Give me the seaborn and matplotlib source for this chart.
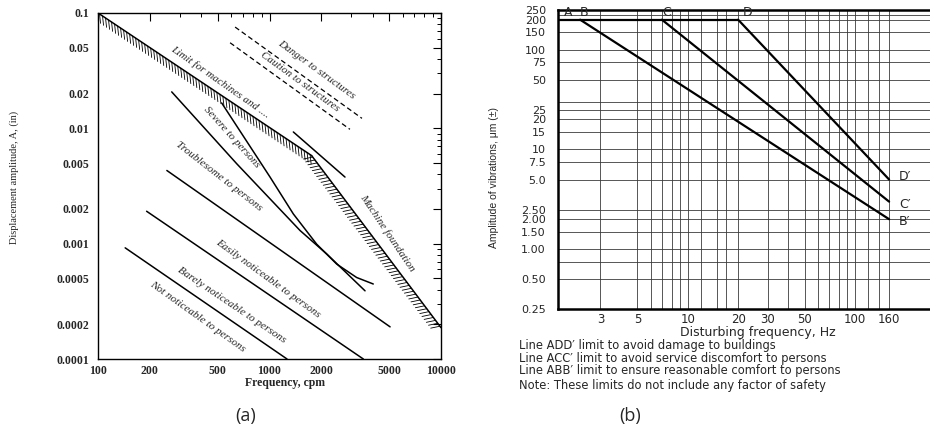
import matplotlib
matplotlib.use("Agg")
import matplotlib.pyplot as plt
import matplotlib.patheffects as pe
from matplotlib.ticker import FixedLocator, NullFormatter, LogLocator
import seaborn as sns

# ---- panel (a): frequency in cpm, displacement amplitude in inches
machine_freq = [100, 1760, 10000]
machine_amp = [0.1, 0.0058, 0.000187]
danger_freq = [630, 3460]
danger_amp = [0.0755, 0.0122]
caution_freq = [589, 2944]
caution_amp = [0.0552, 0.0098]
cross_freq = [1377, 2755]
cross_amp = [0.0093, 0.00378]
severe_lo_freq = [269, 644, 1507, 2158, 3606]
severe_lo_amp = [0.0207, 0.00493, 0.0013, 0.000813, 0.00039]
severe_hi_freq = [526, 1007, 1377, 1884, 2466, 3221, 4027]
severe_hi_amp = [0.0166, 0.00378, 0.00181, 0.00099, 0.000665, 0.000509, 0.000447]
trouble_freq = [252, 5048]
trouble_amp = [0.00431, 0.00019]
easily_freq = [192, 3524]
easily_amp = [0.00191, 0.0001]
barely_freq = [144, 1265]
barely_amp = [0.00092, 0.0001]

cpm_ticks = [100, 200, 500, 1000, 2000, 5000, 10000]
in_ticks = [0.0001, 0.0002, 0.0005, 0.001, 0.002, 0.005, 0.01, 0.02, 0.05, 0.1]
in_labels = ["0.0001", "0.0002", "0.0005", "0.001", "0.002", "0.005",
             "0.01", "0.02", "0.05", "0.1"]

# zone labels: text, freq, amp, angle
zone_text = ["Danger to structures", "Caution to structures", "Limit for machines and ....",
             "Severe to persons", "Troublesome to persons", "Easily noticeable to persons",
             "Barely noticeable to persons", "Not noticeable to persons", "Machine foundation"]
zone_freq = [1866, 1507, 514, 604, 508, 980, 602, 380, 4876]
zone_amp = [0.0319, 0.0253, 0.0253, 0.00836, 0.00383, 0.000497, 0.000295, 0.000232, 0.00125]
zone_rot = [-36, -36, -35, -48, -38, -36, -34, -35.5, -56]

# ---- panel (b): frequency in Hz, amplitude in micrometres
hz_ticks = [3, 5, 10, 20, 30, 50, 100, 160]
hz_grid = [6, 7, 8, 9, 12, 15, 17, 40, 60, 70, 80, 90, 120, 140]
um_ticks = [250, 200, 150, 100, 75, 50, 25, 20, 15, 10, 7.5, 5, 2.5, 2, 1.5, 1, 0.5, 0.25]
um_labels = ["250", "200", "150", "100", "75", "50", "25", "20", "15", "10", "7.5", "5.0",
             "2.50", "2.00", "1.50", "1.00", "0.50", "0.25"]
um_grid = [225, 30, 0.75]
plateau_freq = [1.68, 20]
plateau_amp = [200, 200]
b_freq = [2.27, 160]
b_amp = [200, 2.0]
c_freq = [7, 160]
c_amp = [200, 3.0]
d_freq = [20, 160]
d_amp = [200, 5.0]
notes = ["Line ADD\u2032 limit to avoid damage to buildings",
         "Line ACC\u2032 limit to avoid service discomfort to persons",
         "Line ABB\u2032 limit to ensure reasonable comfort to persons",
         "Note: These limits do not include any factor of safety"]

sns.set_theme(style="white")
plt.rcParams['font.family'] = ['Liberation Serif', 'DejaVu Serif']

fig = plt.figure(figsize=(9.3, 4.3), dpi=100)

# ================= panel (a)
ax = fig.add_axes([0.1054, 0.1651, 0.3688, 0.8047])
ax.set_xscale("log")
ax.set_yscale("log")
ax.set_xlim(100, 10000)
ax.set_ylim(0.0001, 0.1)

k = dict(color="black", lw=1.1, estimator=None, ax=ax)
sns.lineplot(x=machine_freq[:2], y=machine_amp[:2],
             path_effects=[pe.withTickedStroke(angle=-50, spacing=2.6, length=2.6, linewidth=0.6)], **k)
sns.lineplot(x=machine_freq[1:], y=machine_amp[1:],
             path_effects=[pe.withTickedStroke(angle=-115, spacing=2.6, length=2.6, linewidth=0.6)], **k)
sns.lineplot(x=danger_freq, y=danger_amp, linestyle=(0, (4, 2.5)), **{**k, "lw": 0.9})
sns.lineplot(x=caution_freq, y=caution_amp, linestyle=(0, (4, 2.5)), **{**k, "lw": 0.9})
for fx, ay in [(cross_freq, cross_amp), (severe_lo_freq, severe_lo_amp),
               (severe_hi_freq, severe_hi_amp), (trouble_freq, trouble_amp),
               (easily_freq, easily_amp), (barely_freq, barely_amp)]:
    sns.lineplot(x=fx, y=ay, **k)

for t, fx, ay, r in zip(zone_text, zone_freq, zone_amp, zone_rot):
    ax.text(fx, ay, t, rotation=r, rotation_mode="anchor", ha="center", va="center",
            fontsize=8, style="italic")

ax.xaxis.set_major_locator(FixedLocator(cpm_ticks))
ax.set_xticklabels([str(v) for v in cpm_ticks])
ax.yaxis.set_major_locator(FixedLocator(in_ticks))
ax.set_yticklabels(in_labels)
ax.xaxis.set_minor_locator(LogLocator(base=10, subs=range(2, 10)))
ax.yaxis.set_minor_locator(LogLocator(base=10, subs=range(2, 10)))
ax.xaxis.set_minor_formatter(NullFormatter())
ax.yaxis.set_minor_formatter(NullFormatter())
ax.tick_params(which="both", direction="in", top=True, right=True, color="black")
ax.tick_params(which="major", length=6, width=0.8, labelsize=8.5)
ax.tick_params(which="minor", length=3, width=0.7)
ax.tick_params(axis="y", pad=6)
ax.tick_params(axis="x", pad=4)
for lab in ax.get_xticklabels() + ax.get_yticklabels():
    lab.set_fontweight("bold")
for s in ax.spines.values():
    s.set_color("black")
    s.set_linewidth(1.0)
ax.set_xlabel("Frequency, cpm", fontsize=8.5, fontweight="bold")
ax.xaxis.set_label_coords(0.545, -0.052)
ax.set_ylabel("Displacement amplitude, A, (in)", fontsize=7.5)
ax.yaxis.set_label_coords(-0.23, 0.526)

# ================= panel (b)
sans = ['DejaVu Sans']
bx = fig.add_axes([0.6003, 0.2807, 0.3997, 0.696])
bx.set_xscale("log")
bx.set_yscale("log")
bx.set_xlim(1.68, 281)
bx.set_ylim(0.25, 250)

bx.xaxis.set_major_locator(FixedLocator(hz_ticks))
bx.set_xticklabels([str(v) for v in hz_ticks])
bx.xaxis.set_minor_locator(FixedLocator(hz_grid))
bx.xaxis.set_minor_formatter(NullFormatter())
bx.yaxis.set_major_locator(FixedLocator(um_ticks))
bx.set_yticklabels(um_labels)
bx.yaxis.set_minor_locator(FixedLocator(um_grid))
bx.yaxis.set_minor_formatter(NullFormatter())
bx.grid(True, which="both", color="#3a3a3a", lw=0.6)
bx.tick_params(which="both", length=0)
bx.tick_params(axis="y", pad=9, labelsize=8)
bx.tick_params(axis="x", pad=3, labelsize=8.5)
for lab in bx.get_xticklabels() + bx.get_yticklabels():
    lab.set_fontfamily(sans)

kb = dict(color="black", lw=1.6, estimator=None, ax=bx)
sns.lineplot(x=plateau_freq, y=plateau_amp, **kb)
sns.lineplot(x=b_freq, y=b_amp, **kb)
sns.lineplot(x=c_freq, y=c_amp, **kb)
sns.lineplot(x=d_freq, y=d_amp, **kb)

for s in ["left", "bottom", "top"]:
    bx.spines[s].set_color("black")
    bx.spines[s].set_linewidth(1.8)
bx.spines["right"].set_visible(False)

tb = dict(fontsize=9, family=sans, va="center")
bx.annotate("A", (plateau_freq[0], 200), xytext=(4, 5), textcoords="offset points", **tb)
bx.annotate("B", (b_freq[0], 200), xytext=(0, 5), textcoords="offset points", **tb)
bx.annotate("C", (c_freq[0], 200), xytext=(0, 5), textcoords="offset points", **tb)
bx.annotate("D", (d_freq[0], 200), xytext=(3, 5), textcoords="offset points", **tb)
bx.annotate("D\u2032", (d_freq[1], d_amp[1]), xytext=(7, 2), textcoords="offset points", **tb)
bx.annotate("C\u2032", (c_freq[1], c_amp[1]), xytext=(7, -2), textcoords="offset points", **tb)
bx.annotate("B\u2032", (b_freq[1], b_amp[1]), xytext=(7, -2), textcoords="offset points", **tb)

bx.set_xlabel("Disturbing frequency, Hz", fontsize=9, family=sans)
bx.xaxis.set_label_coords(0.537, -0.056)
bx.set_ylabel("Amplitude of vibrations, \u03bcm (\u00b1)", fontsize=7.5,
              family=['Liberation Sans', 'DejaVu Sans'])
bx.yaxis.set_label_coords(-0.16, 0.442)

for n, yy in zip(notes, [346, 358.3, 370.6, 386]):
    fig.text(519 / 930, 1 - yy / 430, n, fontsize=8.3, family=sans, va="center", ha="left")

fig.text(246 / 930, 1 - 416 / 430, "(a)", fontsize=13, family=["Open Sans", "DejaVu Sans"],
         ha="center", va="center")
fig.text(630 / 930, 1 - 416 / 430, "(b)", fontsize=13, family=["Open Sans", "DejaVu Sans"],
         ha="center", va="center")

fig.savefig("out.png", dpi=100, facecolor="white")
